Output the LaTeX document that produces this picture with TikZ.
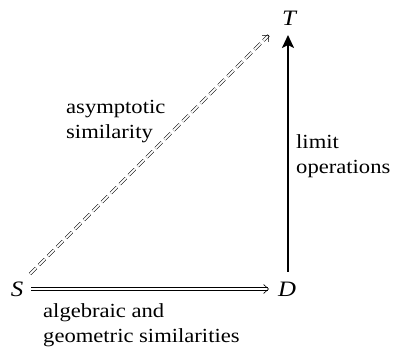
\documentclass[tikz,border=0pt]{standalone}
\usepackage{fontspec}
\setmainfont[FakeStretch=1.13]{Liberation Serif}
\usetikzlibrary{arrows.meta}
\begin{document}
\begin{tikzpicture}[x=1pt,y=-1pt,
  lbl/.style={inner sep=0pt,font=\fontsize{20}{24.5}\selectfont,align=left},
  pt/.style={inner sep=0pt,font=\fontsize{22}{24}\selectfont\itshape}]
\useasboundingbox (0,0) rectangle (394,347);
\node[pt, anchor=base] (S) at (17,297) {S};
\node[pt, anchor=base] (D) at (287,297) {D};
\node[pt, anchor=base] (T) at (289,26) {T};
\coordinate (Sa) at (31,289);
\coordinate (Da) at (269,289);
\coordinate (Db) at (288,272);
\coordinate (Tb) at (288,35);
\coordinate (Sd) at (30,274);
\coordinate (Td) at (269,35);
\draw[double distance=2pt, line width=0.6pt, -{Straight Barb[length=5pt,width=9pt]}] (Sa) -- (Da);
\draw[line width=2.2pt, -{Stealth[length=13pt,width=12pt,inset=3pt]}] (Db) -- (Tb);
\draw[double distance=2pt, line width=0.5pt, dash pattern=on 8.5pt off 4.2pt, -{Straight Barb[length=5pt,width=9pt]}] (Sd) -- (Td);
\node[lbl, anchor=base west] (a) at (66,138.5) {asymptotic\\similarity};
\node[lbl, anchor=base west] (b) at (296,173.5) {limit\\operations};
\node[lbl, anchor=base west] (c) at (43,342.5) {algebraic and\\geometric similarities};
\end{tikzpicture}
\end{document}
